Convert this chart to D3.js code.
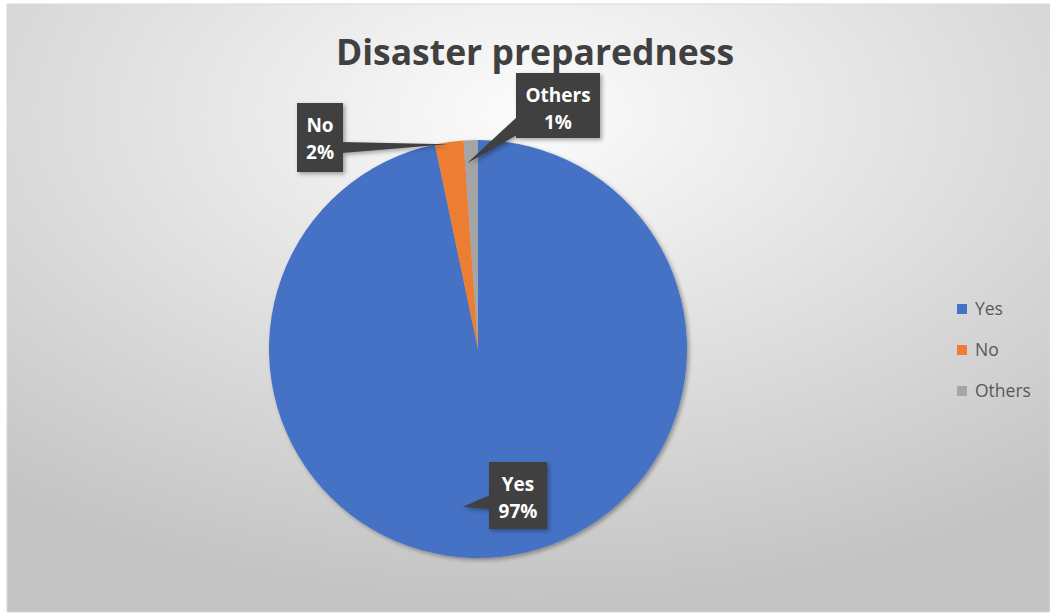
<!DOCTYPE html>
<html><head><meta charset="utf-8">
<script src="https://cdn.jsdelivr.net/npm/d3@7"></script>
<style>html,body{margin:0;padding:0;background:#fff;}svg{display:block;}</style>
</head><body>
<svg id="c" width="1050" height="616"></svg>
<script>
const categories = ["Yes", "No", "Others"];
const values = [96.7, 2.2, 1.1];
const labelTexts = ["97%", "2%", "1%"];
const colors = ["#4472C4", "#ED7D31", "#A5A5A5"];

const svg = d3.select("#c");
const defs = svg.append("defs");
const grad = defs.append("radialGradient").attr("id","bg").attr("cx","50%").attr("cy","18%").attr("r","80%").attr("fx","50%").attr("fy","18%");
grad.append("stop").attr("offset","0%").attr("stop-color","#fcfcfc");
grad.append("stop").attr("offset","100%").attr("stop-color","#c4c4c4");
const sh = defs.append("filter").attr("id","sh").attr("x","-20%").attr("y","-20%").attr("width","150%").attr("height","150%");
sh.append("feDropShadow").attr("dx",2).attr("dy",2).attr("stdDeviation",2).attr("flood-color","#000").attr("flood-opacity",0.35);

svg.append("rect").attr("x",7).attr("y",4).attr("width",1043).attr("height",608).attr("fill","url(#bg)").attr("stroke","#d9d9d9").attr("stroke-width",1);

svg.append("text").attr("x",535).attr("y",65).attr("text-anchor","middle")
  .attr("font-family","'Open Sans', sans-serif").attr("font-weight",700).attr("font-size",35.5)
  .attr("fill","#404040").text("Disaster preparedness");

const cx = 478, cy = 349, R = 209;
const pie = d3.pie().sort(null).value(d => d.v);
const data = pie(categories.map((c,i)=>({c, v: values[i], lab: labelTexts[i], col: colors[i]})));
const arc = d3.arc().innerRadius(0).outerRadius(R);
const g = svg.append("g").attr("transform",`translate(${cx},${cy})`);
g.append("g").attr("filter","url(#sh)").selectAll("path").data(data).join("path")
  .attr("d", arc).attr("fill", d => d.data.col);

// callout layout: box rect relative to pie center, pointer tip at (angle fraction within slice, radius fraction)
const callouts = [
  {box:[11,113,58,67], tipR:0.76, tipT:0.533, side:"left",  base:[146,160]},
  {box:[-181,-246,46,69], tipR:0.99, tipT:0.43, side:"right", base:[-207,-196]},
  {box:[38,-276,84,65], tipR:0.89, tipT:0.15, side:"left", base:[-232,-214]}
];
const cg = g.append("g");
data.forEach((d,i) => {
  const co = callouts[i];
  const a = d.startAngle + (d.endAngle - d.startAngle) * co.tipT;
  const tx = Math.sin(a) * R * co.tipR, ty = -Math.cos(a) * R * co.tipR;
  const [bx, by, bw, bh] = co.box;
  const ex = co.side === "left" ? bx + 1 : bx + bw - 1;
  const poly = [[ex, co.base[0]], [tx,ty], [ex, co.base[1]]];
  const grp = cg.append("g").attr("filter","url(#sh)");
  grp.append("polygon").attr("points", poly.map(p=>p.join(",")).join(" ")).attr("fill","#404040");
  grp.append("rect").attr("x",bx).attr("y",by).attr("width",bw).attr("height",bh).attr("fill","#404040");
  const t = cg.append("text").attr("text-anchor","middle").attr("font-family","'Open Sans', sans-serif")
    .attr("font-weight",700).attr("font-size",19).attr("fill","#ffffff");
  t.append("tspan").attr("x", bx + bw/2).attr("y", by + 29).text(d.data.c);
  t.append("tspan").attr("x", bx + bw/2).attr("y", by + 56).text(d.data.lab);
});

const lg = svg.append("g").attr("transform","translate(957,304)");
const items = lg.selectAll("g").data(categories).join("g").attr("transform",(d,i)=>`translate(0,${i*41})`);
items.append("rect").attr("width",10).attr("height",10).attr("fill",(d,i)=>colors[i]);
items.append("text").attr("x",18).attr("y",11).attr("font-family","'Open Sans', sans-serif").attr("font-size",17.5)
  .attr("fill","#595959").text(d=>d);
</script>
</body></html>
